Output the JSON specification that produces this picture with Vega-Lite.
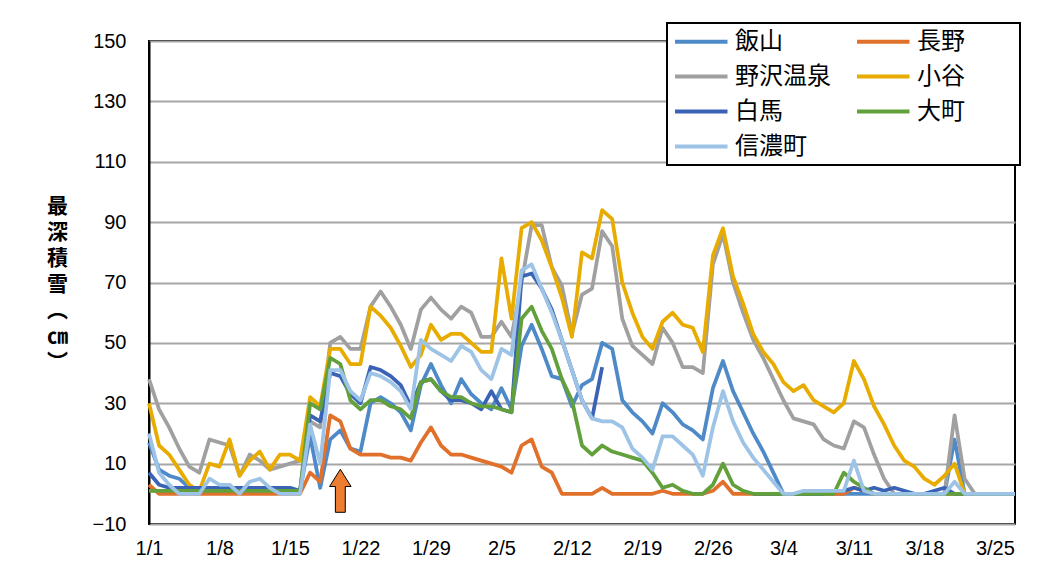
{
  "$schema": "https://vega.github.io/schema/vega-lite/v6.json",
  "width": 866,
  "height": 483,
  "autosize": "none",
  "padding": {"left": 149, "top": 41, "right": 49, "bottom": 62},
  "background": "#ffffff",
  "config": {
    "view": {"stroke": "#000000", "strokeWidth": 2},
    "font": "Liberation Sans"
  },
  "layer": [
    {
      "data": {"values": [
        {"date":"1/1","飯山":17,"長野":3,"野沢温泉":38,"小谷":30,"白馬":7,"大町":1,"信濃町":20},
        {"date":"1/2","飯山":8,"長野":0,"野沢温泉":28,"小谷":16,"白馬":3,"大町":1,"信濃町":7},
        {"date":"1/3","飯山":6,"長野":0,"野沢温泉":22,"小谷":13,"白馬":2,"大町":1,"信濃町":3},
        {"date":"1/4","飯山":5,"長野":0,"野沢温泉":15,"小谷":8,"白馬":2,"大町":1,"信濃町":0},
        {"date":"1/5","飯山":2,"長野":0,"野沢温泉":9,"小谷":3,"白馬":2,"大町":1,"信濃町":0},
        {"date":"1/6","飯山":1,"長野":0,"野沢温泉":7,"小谷":1,"白馬":2,"大町":1,"信濃町":0},
        {"date":"1/7","飯山":1,"長野":0,"野沢温泉":18,"小谷":10,"白馬":2,"大町":1,"信濃町":5},
        {"date":"1/8","飯山":1,"長野":0,"野沢温泉":17,"小谷":9,"白馬":2,"大町":1,"信濃町":3},
        {"date":"1/9","飯山":1,"長野":0,"野沢温泉":16,"小谷":18,"白馬":2,"大町":1,"信濃町":3},
        {"date":"1/10","飯山":1,"長野":0,"野沢温泉":6,"小谷":6,"白馬":2,"大町":1,"信濃町":0},
        {"date":"1/11","飯山":1,"長野":0,"野沢温泉":13,"小谷":11,"白馬":2,"大町":1,"信濃町":4},
        {"date":"1/12","飯山":1,"長野":0,"野沢温泉":11,"小谷":14,"白馬":2,"大町":1,"信濃町":5},
        {"date":"1/13","飯山":1,"長野":0,"野沢温泉":8,"小谷":8,"白馬":2,"大町":1,"信濃町":2},
        {"date":"1/14","飯山":2,"長野":0,"野沢温泉":9,"小谷":13,"白馬":2,"大町":1,"信濃町":0},
        {"date":"1/15","飯山":1,"長野":0,"野沢温泉":10,"小谷":13,"白馬":2,"大町":1,"信濃町":0},
        {"date":"1/16","飯山":1,"長野":0,"野沢温泉":11,"小谷":11,"白馬":1,"大町":1,"信濃町":0},
        {"date":"1/17","飯山":19,"長野":7,"野沢温泉":24,"小谷":32,"白馬":26,"大町":30,"信濃町":23},
        {"date":"1/18","飯山":2,"長野":4,"野沢温泉":22,"小谷":29,"白馬":24,"大町":28,"信濃町":10},
        {"date":"1/19","飯山":18,"長野":26,"野沢温泉":50,"小谷":48,"白馬":40,"大町":45,"信濃町":41},
        {"date":"1/20","飯山":21,"長野":24,"野沢温泉":52,"小谷":48,"白馬":39,"大町":43,"信濃町":41},
        {"date":"1/21","飯山":15,"長野":15,"野沢温泉":48,"小谷":43,"白馬":33,"大町":31,"信濃町":34},
        {"date":"1/22","飯山":14,"長野":13,"野沢温泉":48,"小谷":43,"白馬":30,"大町":28,"信濃町":31},
        {"date":"1/23","飯山":30,"長野":13,"野沢温泉":62,"小谷":62,"白馬":42,"大町":31,"信濃町":40},
        {"date":"1/24","飯山":32,"長野":13,"野沢温泉":67,"小谷":59,"白馬":41,"大町":31,"信濃町":39},
        {"date":"1/25","飯山":30,"長野":12,"野沢温泉":62,"小谷":55,"白馬":39,"大町":29,"信濃町":37},
        {"date":"1/26","飯山":27,"長野":12,"野沢温泉":56,"小谷":49,"白馬":36,"大町":28,"信濃町":34},
        {"date":"1/27","飯山":21,"長野":11,"野沢温泉":48,"小谷":42,"白馬":29,"大町":25,"信濃町":28},
        {"date":"1/28","飯山":36,"長野":17,"野沢温泉":61,"小谷":46,"白馬":37,"大町":37,"信濃町":51},
        {"date":"1/29","飯山":43,"長野":22,"野沢温泉":65,"小谷":56,"白馬":38,"大町":38,"信濃町":48},
        {"date":"1/30","飯山":36,"長野":16,"野沢温泉":61,"小谷":51,"白馬":34,"大町":34,"信濃町":46},
        {"date":"1/31","飯山":30,"長野":13,"野沢温泉":58,"小谷":53,"白馬":31,"大町":32,"信濃町":44},
        {"date":"2/1","飯山":38,"長野":13,"野沢温泉":62,"小谷":53,"白馬":31,"大町":32,"信濃町":49},
        {"date":"2/2","飯山":33,"長野":12,"野沢温泉":60,"小谷":50,"白馬":30,"大町":30,"信濃町":47},
        {"date":"2/3","飯山":30,"長野":11,"野沢温泉":52,"小谷":47,"白馬":28,"大町":29,"信濃町":41},
        {"date":"2/4","飯山":28,"長野":10,"野沢温泉":52,"小谷":47,"白馬":34,"大町":29,"信濃町":38},
        {"date":"2/5","飯山":35,"長野":9,"野沢温泉":57,"小谷":78,"白馬":28,"大町":28,"信濃町":48},
        {"date":"2/6","飯山":28,"長野":7,"野沢温泉":52,"小谷":58,"白馬":27,"大町":27,"信濃町":46},
        {"date":"2/7","飯山":49,"長野":16,"野沢温泉":70,"小谷":88,"白馬":72,"大町":58,"信濃町":74},
        {"date":"2/8","飯山":56,"長野":18,"野沢温泉":89,"小谷":90,"白馬":73,"大町":62,"信濃町":76},
        {"date":"2/9","飯山":48,"長野":9,"野沢温泉":89,"小谷":84,"白馬":68,"大町":54,"信濃町":68},
        {"date":"2/10","飯山":39,"長野":7,"野沢温泉":75,"小谷":75,"白馬":61,"大町":48,"信濃町":60},
        {"date":"2/11","飯山":38,"長野":0,"野沢温泉":69,"小谷":65,"白馬":51,"大町":38,"信濃町":51},
        {"date":"2/12","飯山":29,"長野":0,"野沢温泉":53,"小谷":52,"白馬":41,"大町":31,"信濃町":41},
        {"date":"2/13","飯山":36,"長野":0,"野沢温泉":66,"小谷":80,"白馬":31,"大町":16,"信濃町":31},
        {"date":"2/14","飯山":38,"長野":0,"野沢温泉":68,"小谷":78,"白馬":25,"大町":13,"信濃町":25},
        {"date":"2/15","飯山":50,"長野":2,"野沢温泉":87,"小谷":94,"白馬":42,"大町":16,"信濃町":24},
        {"date":"2/16","飯山":48,"長野":0,"野沢温泉":82,"小谷":91,"白馬":null,"大町":14,"信濃町":24},
        {"date":"2/17","飯山":31,"長野":0,"野沢温泉":58,"小谷":70,"白馬":null,"大町":13,"信濃町":22},
        {"date":"2/18","飯山":27,"長野":0,"野沢温泉":49,"小谷":60,"白馬":null,"大町":12,"信濃町":15},
        {"date":"2/19","飯山":24,"長野":0,"野沢温泉":46,"小谷":52,"白馬":null,"大町":11,"信濃町":12},
        {"date":"2/20","飯山":20,"長野":0,"野沢温泉":43,"小谷":48,"白馬":null,"大町":7,"信濃町":8},
        {"date":"2/21","飯山":30,"長野":1,"野沢温泉":55,"小谷":57,"白馬":null,"大町":2,"信濃町":19},
        {"date":"2/22","飯山":27,"長野":0,"野沢温泉":50,"小谷":60,"白馬":null,"大町":3,"信濃町":19},
        {"date":"2/23","飯山":23,"長野":0,"野沢温泉":42,"小谷":56,"白馬":null,"大町":1,"信濃町":16},
        {"date":"2/24","飯山":21,"長野":0,"野沢温泉":42,"小谷":55,"白馬":null,"大町":0,"信濃町":13},
        {"date":"2/25","飯山":18,"長野":0,"野沢温泉":40,"小谷":47,"白馬":null,"大町":0,"信濃町":6},
        {"date":"2/26","飯山":35,"長野":1,"野沢温泉":76,"小谷":79,"白馬":null,"大町":3,"信濃町":22},
        {"date":"2/27","飯山":44,"長野":4,"野沢温泉":86,"小谷":88,"白馬":null,"大町":10,"信濃町":34},
        {"date":"2/28","飯山":34,"長野":0,"野沢温泉":70,"小谷":72,"白馬":null,"大町":3,"信濃町":24},
        {"date":"2/29","飯山":27,"長野":0,"野沢温泉":60,"小谷":63,"白馬":null,"大町":1,"信濃町":17},
        {"date":"3/1","飯山":20,"長野":0,"野沢温泉":51,"小谷":53,"白馬":0,"大町":0,"信濃町":12},
        {"date":"3/2","飯山":14,"長野":0,"野沢温泉":45,"小谷":47,"白馬":0,"大町":0,"信濃町":8},
        {"date":"3/3","飯山":7,"長野":0,"野沢温泉":38,"小谷":43,"白馬":0,"大町":0,"信濃町":4},
        {"date":"3/4","飯山":0,"長野":0,"野沢温泉":31,"小谷":37,"白馬":0,"大町":0,"信濃町":0},
        {"date":"3/5","飯山":0,"長野":0,"野沢温泉":25,"小谷":34,"白馬":0,"大町":0,"信濃町":0},
        {"date":"3/6","飯山":0,"長野":0,"野沢温泉":24,"小谷":36,"白馬":0,"大町":0,"信濃町":1},
        {"date":"3/7","飯山":0,"長野":0,"野沢温泉":23,"小谷":31,"白馬":0,"大町":0,"信濃町":1},
        {"date":"3/8","飯山":0,"長野":0,"野沢温泉":18,"小谷":29,"白馬":0,"大町":0,"信濃町":1},
        {"date":"3/9","飯山":0,"長野":0,"野沢温泉":16,"小谷":27,"白馬":1,"大町":0,"信濃町":1},
        {"date":"3/10","飯山":0,"長野":0,"野沢温泉":15,"小谷":30,"白馬":1,"大町":7,"信濃町":1},
        {"date":"3/11","飯山":0,"長野":2,"野沢温泉":24,"小谷":44,"白馬":2,"大町":4,"信濃町":11},
        {"date":"3/12","飯山":0,"長野":1,"野沢温泉":22,"小谷":38,"白馬":1,"大町":2,"信濃町":1},
        {"date":"3/13","飯山":0,"長野":0,"野沢温泉":13,"小谷":29,"白馬":2,"大町":0,"信濃町":0},
        {"date":"3/14","飯山":0,"長野":0,"野沢温泉":5,"小谷":23,"白馬":1,"大町":0,"信濃町":0},
        {"date":"3/15","飯山":0,"長野":0,"野沢温泉":0,"小谷":16,"白馬":2,"大町":0,"信濃町":0},
        {"date":"3/16","飯山":0,"長野":0,"野沢温泉":0,"小谷":11,"白馬":1,"大町":0,"信濃町":0},
        {"date":"3/17","飯山":0,"長野":0,"野沢温泉":0,"小谷":9,"白馬":0,"大町":0,"信濃町":0},
        {"date":"3/18","飯山":0,"長野":0,"野沢温泉":0,"小谷":5,"白馬":0,"大町":0,"信濃町":0},
        {"date":"3/19","飯山":0,"長野":0,"野沢温泉":0,"小谷":3,"白馬":1,"大町":0,"信濃町":0},
        {"date":"3/20","飯山":0,"長野":0,"野沢温泉":0,"小谷":6,"白馬":2,"大町":0,"信濃町":0},
        {"date":"3/21","飯山":18,"長野":0,"野沢温泉":26,"小谷":10,"白馬":0,"大町":0,"信濃町":4},
        {"date":"3/22","飯山":0,"長野":0,"野沢温泉":5,"小谷":0,"白馬":0,"大町":0,"信濃町":0},
        {"date":"3/23","飯山":0,"長野":0,"野沢温泉":0,"小谷":0,"白馬":0,"大町":0,"信濃町":0},
        {"date":"3/24","飯山":0,"長野":0,"野沢温泉":0,"小谷":0,"白馬":0,"大町":0,"信濃町":0},
        {"date":"3/25","飯山":0,"長野":0,"野沢温泉":0,"小谷":0,"白馬":0,"大町":0,"信濃町":0},
        {"date":"3/26","飯山":0,"長野":0,"野沢温泉":0,"小谷":0,"白馬":0,"大町":0,"信濃町":0},
        {"date":"3/27","飯山":0,"長野":0,"野沢温泉":0,"小谷":0,"白馬":0,"大町":0,"信濃町":0}
      ]},
      "transform": [
        {"fold": ["飯山","長野","野沢温泉","小谷","白馬","大町","信濃町"], "as": ["地点","積雪"]}
      ],
      "mark": {"type": "line", "strokeWidth": 3.75, "strokeJoin": "round", "strokeCap": "butt", "invalid": "break-paths-show-domains"},
      "encoding": {
        "x": {
          "field": "date", "type": "ordinal",
          "scale": {"type": "point", "padding": 0, "domain": ["1/1","1/2","1/3","1/4","1/5","1/6","1/7","1/8","1/9","1/10","1/11","1/12","1/13","1/14","1/15","1/16","1/17","1/18","1/19","1/20","1/21","1/22","1/23","1/24","1/25","1/26","1/27","1/28","1/29","1/30","1/31","2/1","2/2","2/3","2/4","2/5","2/6","2/7","2/8","2/9","2/10","2/11","2/12","2/13","2/14","2/15","2/16","2/17","2/18","2/19","2/20","2/21","2/22","2/23","2/24","2/25","2/26","2/27","2/28","2/29","3/1","3/2","3/3","3/4","3/5","3/6","3/7","3/8","3/9","3/10","3/11","3/12","3/13","3/14","3/15","3/16","3/17","3/18","3/19","3/20","3/21","3/22","3/23","3/24","3/25","3/26","3/27"]},
          "axis": {"title": null, "values": ["1/1","1/8","1/15","1/22","1/29","2/5","2/12","2/19","2/26","3/4","3/11","3/18","3/25"], "labelAngle": 0, "ticks": false, "domain": false, "grid": false, "labelFont": "Liberation Sans", "labelFontSize": 20, "labelColor": "#000000", "labelPadding": 14}
        },
        "y": {
          "field": "積雪", "type": "quantitative",
          "scale": {"domain": [-10, 150], "nice": false, "zero": false},
          "axis": {
            "values": [-10, 10, 30, 50, 70, 90, 110, 130, 150],
            "title": ["最","深","積","雪","︵","㎝","︶"],
            "titleAngle": 0, "titleFont": "Noto Sans CJK JP", "titleFontSize": 21, "titleFontWeight": "bold", "titleColor": "#000000",
            "titleLineHeight": 26, "titleAlign": "center", "titleBaseline": "middle", "titleX": -92, "titleY": 165,
            "grid": true, "gridColor": "#a6a6a6", "gridWidth": 2,
            "domain": true, "domainColor": "#000000", "domainWidth": 2,
            "ticks": false, "labelFont": "Liberation Sans", "labelFontSize": 20, "labelColor": "#000000", "labelPadding": 23
          }
        },
        "color": {
          "field": "地点", "type": "nominal",
          "scale": {"domain": ["飯山","長野","野沢温泉","小谷","白馬","大町","信濃町"], "range": ["#4e8ac8","#e0702a","#a0a0a0","#e8ac00","#3b63b5","#62a03c","#9dc3e6"]},
          "legend": {
            "title": null,
            "orient": "none", "legendX": 518, "legendY": -18, "columns": 2, "direction": "horizontal",
            "symbolType": "M-1,0H4M13.1,0", "symbolStrokeWidth": 4, "symbolSize": 441,
            "labelFont": "Noto Sans CJK JP", "labelFontSize": 24, "labelColor": "#000000", "labelOffset": 37, "labelLimit": 400,
            "strokeColor": "#000000", "fillColor": "#ffffff", "padding": 6, "rowPadding": 10, "columnPadding": 17,
            "encode": {"legend": {"update": {"strokeWidth": {"value": 2}}}}
          }
        }
      }
    },
    {
      "data": {"values": [{"date": "1/20", "積雪": 1}]},
      "mark": {"type": "point", "shape": "M0,-1L0.5,-0.2L0.23,-0.2L0.23,1L-0.23,1L-0.23,-0.2L-0.5,-0.2Z", "size": 1850, "filled": true, "fill": "#ed7d31", "stroke": "#000000", "strokeWidth": 1, "opacity": 1},
      "encoding": {
        "x": {"field": "date", "type": "ordinal"},
        "y": {"field": "積雪", "type": "quantitative"}
      }
    }
  ]
}
